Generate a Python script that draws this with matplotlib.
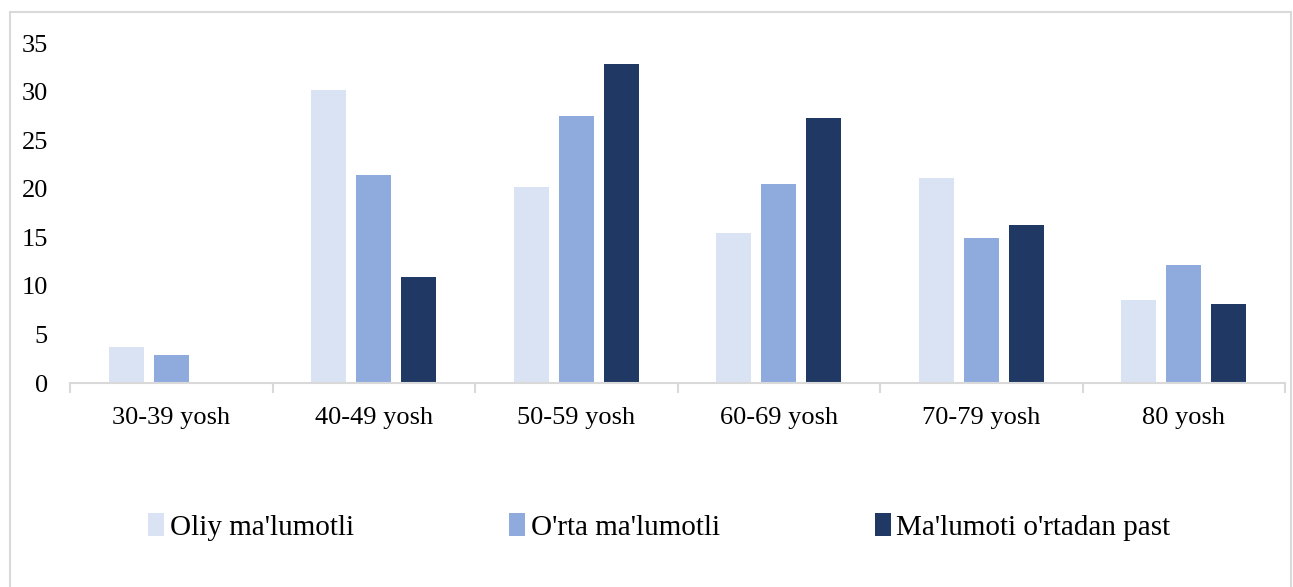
import numpy as np
import matplotlib.pyplot as plt
from matplotlib.patches import Rectangle

categories = ['30-39 yosh', '40-49 yosh', '50-59 yosh', '60-69 yosh', '70-79 yosh', '80 yosh']
series_names = ["Oliy ma'lumotli", "O'rta ma'lumotli", "Ma'lumoti o'rtadan past"]
oliy = [3.7, 30.2, 20.2, 15.4, 21.1, 8.5]
orta = [2.9, 21.4, 27.5, 20.5, 14.9, 12.1]
past = [0.0, 10.9, 32.8, 27.3, 16.3, 8.1]
colors = ['#dae3f3', '#8faadc', '#203864']

plt.rcParams['font.family'] = ['Liberation Serif', 'DejaVu Serif']

W, H = 1293, 587
fig = plt.figure(figsize=(W / 100, H / 100), dpi=100)
fig.patches.append(Rectangle((10 / W, -0.01), (W - 12) / W, (H - 12) / H + 0.01,
                             transform=fig.transFigure, fill=False,
                             edgecolor='#d9d9d9', linewidth=1.5))

ax = fig.add_axes([70 / W, 204 / H, 1215 / W, 340 / H])
x = np.arange(len(categories))
width = 0.173
step = 0.222
for i, (vals, name) in enumerate(zip([oliy, orta, past], series_names)):
    ax.bar(x + (i - 1) * step, vals, width, color=colors[i], label=name)

ax.set_xlim(-0.5, len(categories) - 0.5)
ax.set_ylim(0, 35)
ax.set_yticks(range(0, 36, 5))
ax.tick_params(axis='y', length=0, labelsize=19, pad=16)
ax.set_xticks(x)
ax.set_xticklabels(categories)
ax.tick_params(axis='x', length=0, labelsize=19, pad=17)
ax.set_xticks(np.arange(-0.5, len(categories)), minor=True)
ax.tick_params(axis='x', which='minor', length=7, color='#d9d9d9', width=1.5)
for s in ['top', 'right', 'left']:
    ax.spines[s].set_visible(False)
ax.spines['bottom'].set_color('#d9d9d9')
ax.spines['bottom'].set_linewidth(1.5)

fig.legend(loc='center', bbox_to_anchor=(0.51, 60 / H), ncol=3, frameon=False,
           fontsize=21, handlelength=0.55, handleheight=0.85, handletextpad=0.2,
           columnspacing=5.3)

fig.savefig('out.png', dpi=100)
